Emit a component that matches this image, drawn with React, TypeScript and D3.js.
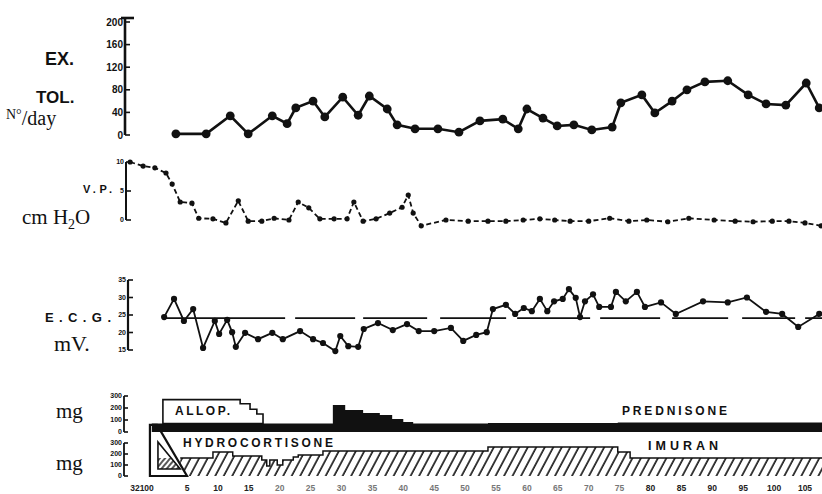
import React from "react";
import * as d3 from "d3";

// ---------- data ----------
const dayTicks = [5, 10, 15, 20, 25, 30, 35, 40, 45, 50, 55, 60, 65, 70, 75, 80, 85, 90, 95, 100, 105];
const fadedTicks = [20, 25, 30, 35, 40, 45, 50, 55, 60, 65, 70, 75];
const preDayLabel = "32100";

const exTicks = [0, 40, 80, 120, 160, 200];
const exDays = [3.2, 8.1, 12, 14.9, 18.8, 21.2, 22.6, 25.4, 27.3, 30.2, 32.7, 34.5, 37.4, 39, 41.9,
  45.6, 49, 52.4, 56.1, 58.6, 60, 62.6, 64.9, 67.6, 70.5, 73.8, 75.2, 78.6, 80.7, 83.5, 85.9, 88.8,
  92.5, 95.8, 98.7, 101.9, 105.2, 107.3];
const exValues = [2, 2, 34, 2, 34, 20, 48, 60, 32, 67, 35, 69, 46, 18, 11,
  11, 5, 25, 28, 11, 46, 30, 16, 18, 9, 14, 57, 71, 39, 60, 80, 94,
  96, 71, 55, 53, 92, 48];

const vpTicks = [0, 5, 10];
const vpDays = [-4.2, -2.1, -0.2, 1.6, 2.6, 3.9, 5.8, 6.9, 9.2, 11.3,
  13.3, 14.9, 17.1, 19.1, 21.5, 23, 24.7, 26.5, 28.8, 30.9,
  32, 33.5, 35.6, 37.8, 39.8, 40.8, 41.6, 42.9, 46.9, 50.5,
  53.7, 56.6, 59.4, 62.1, 64.5, 67, 70, 73.4, 76.5, 79.4,
  82.8, 86.2, 90.3, 93.7, 96.6, 99.7, 102.4, 105, 107.6];
const vpValues = [10, 9.3, 9.0, 8.1, 6.2, 3.1, 2.9, 0.3, 0.2, -0.5,
  3.3, -0.2, -0.2, 0.3, 0, 3.1, 2.1, 0.2, 0.2, 0.2,
  3.1, -0.2, 0.2, 1.2, 2.2, 4.3, 1.2, -1.0, 0, -0.2,
  -0.2, -0.2, 0, 0.2, 0, -0.2, -0.2, 0.3, -0.2, 0,
  -0.3, 0.3, 0, -0.2, -0.3, -0.2, -0.2, -0.5, -1.0];

const ecgTicks = [15, 20, 25, 30, 35];
const ecgDays = [1.3, 2.9, 4.5, 6.0, 7.6, 9.5, 10.2, 11.5, 12.3, 12.9,
  14.4, 16.5, 18.8, 20.5, 23.3, 25.4, 27.0, 29.0, 29.8, 31.1,
  32.7, 33.6, 35.9, 38.3, 40.6, 42.5, 45.0, 47.7, 49.7, 51.8,
  53.5, 54.5, 56.6, 58.1, 59.5, 60.8, 62.1, 63.3, 64.4, 65.8,
  66.8, 67.9, 68.6, 69.4, 70.7, 71.7, 73.6, 74.4, 76.0, 77.8,
  79.1, 81.7, 84.1, 88.5, 92.5, 95.6, 98.7, 101.3, 103.9, 107.3];
const ecgValues = [24.4, 29.6, 23.3, 26.7, 15.6, 23.3, 19.6, 23.6, 20.1, 15.9,
  19.9, 18.1, 19.9, 18.1, 20.4, 18.1, 17, 14.7, 19, 16.1,
  15.9, 21, 22.7, 20.7, 22.4, 20.4, 20.4, 21.3, 17.6, 19.3,
  20.1, 26.7, 27.9, 25.3, 27, 26.1, 29.6, 26.1, 28.9, 29.6,
  32.4, 29.9, 24.4, 28.9, 30.9, 27.3, 27.3, 31.6, 28.9, 31.6,
  27.3, 28.6, 25.3, 28.9, 28.6, 30, 25.9, 25.3, 21.6, 25.3];
const ecgRefValue = 24.1;
const ecgRefStartDay = 1.3;

const mgTicks = [0, 100, 200, 300];
const prednisoneDays = [-0.7, 28.6, 30.6, 33.5, 36.2, 38.2, 40.0, 41.6, 53.7, 74.7, 112];
const prednisoneValues = [70, 225, 183, 158, 142, 108, 83, 70, 75, 80, 80];
const allopDays = [1.1, 13.6, 15.2, 16.3, 17.3];
const allopValues = [200, 165, 120, 80, 80];
const hydroDays = [-1, 0.15, 5];
const hydroValues = [464, 464, 0];
const hydroInnerDays = [0.3, 0.3, 3.9];
const hydroInnerValues = [64, 309, 64];
const hydroInnerHatchDays = [0.3, 0.3, 2.4, 3.9];
const hydroInnerHatchValues = [64, 164, 164, 64];
const imuranDays = [3.9, 9.2, 12.4, 17.1, 17.9, 18.4, 19.6, 20.5, 22.2, 23.0, 27.0, 53.7, 74.7, 76.7, 112];
const imuranValues = [164, 218, 182, 145, 91, 145, 100, 145, 173, 190, 227, 264, 218, 164, 164];

// ---------- scales ----------
const x = d3.scaleLinear().domain([5, 105]).range([187, 805]);
const yEx = d3.scaleLinear().domain([0, 200]).range([135, 22]);
const yVp = d3.scaleLinear().domain([0, 10]).range([220, 162]);
const yEcg = d3.scaleLinear().domain([15, 35]).range([350, 280]);
const yU = d3.scaleLinear().domain([0, 300]).range([432, 396]);
const yL = d3.scaleLinear().domain([0, 300]).range([476, 443]);

type P = { d: number; v: number };
const zip = (ds: number[], vs: number[]): P[] => ds.map((d, i) => ({ d, v: vs[i] }));

const exPts = zip(exDays, exValues);
const vpPts = zip(vpDays, vpValues);
const ecgPts = zip(ecgDays, ecgValues);

const predAt = (day: number) => {
  let v = prednisoneValues[0];
  for (let i = 0; i < prednisoneDays.length; i++) if (prednisoneDays[i] <= day) v = prednisoneValues[i];
  return v;
};

const INK = "#111";
const numFont = "'Liberation Sans Narrow', 'Liberation Sans', Arial, sans-serif";
const labFont = "'Liberation Sans', Arial, sans-serif";
const handFont = "'Liberation Serif', 'DejaVu Serif', serif";

export default function App() {
  const exLine = d3.line<P>().x(p => x(p.d)).y(p => yEx(p.v))(exPts) || "";
  const vpLine = d3.line<P>().x(p => x(p.d)).y(p => yVp(p.v))(vpPts) || "";
  const ecgLine = d3.line<P>().x(p => x(p.d)).y(p => yEcg(p.v))(ecgPts) || "";

  const predArea = d3.area<P>().curve(d3.curveStepAfter)
    .x(p => x(p.d)).y0(yU(0)).y1(p => yU(p.v))(zip(prednisoneDays, prednisoneValues)) || "";
  const allopArea = d3.area<P>().curve(d3.curveStepAfter)
    .x(p => x(p.d)).y0(p => yU(predAt(p.d))).y1(p => yU(predAt(p.d) + p.v))(zip(allopDays, allopValues)) || "";
  const hydroArea = d3.area<P>().x(p => x(p.d)).y0(yL(0)).y1(p => yL(p.v))(zip(hydroDays, hydroValues)) || "";
  const innerPts = zip(hydroInnerDays, hydroInnerValues);
  const innerPath = d3.line<P>().x(p => x(p.d)).y(p => yL(p.v))(innerPts) + "Z";
  const innerHatch = d3.line<P>().x(p => x(p.d)).y(p => yL(p.v))(zip(hydroInnerHatchDays, hydroInnerHatchValues)) + "Z";
  const imPts = zip(imuranDays, imuranValues);
  const imArea = d3.area<P>().curve(d3.curveStepAfter).x(p => x(p.d)).y0(yL(0)).y1(p => yL(p.v))(imPts) || "";
  const imTop = d3.line<P>().curve(d3.curveStepAfter).x(p => x(p.d)).y(p => yL(p.v))(imPts) || "";

  const refX0 = x(ecgRefStartDay);

  const axis = (ax: number, scale: d3.ScaleLinear<number, number>, ticks: number[], fs: number, capTop = false, tickLen = 5, sw = 2.2) => {
    const [lo, hi] = scale.domain();
    const yTop = capTop ? scale(hi) - 4 : scale(hi);
    return (
      <g>
        <line x1={ax} x2={ax} y1={yTop} y2={scale(lo)} stroke={INK} strokeWidth={sw} />
        {ticks.map(t => (
          <g key={t}>
            <line x1={ax} x2={ax + tickLen} y1={scale(t)} y2={scale(t)} stroke={INK} strokeWidth={1.6} />
            <text x={ax - 2} y={scale(t) + fs * 0.35} fontSize={fs} fontFamily={numFont} fontWeight="bold"
              textAnchor="end" fill={INK}>{t}</text>
          </g>
        ))}
      </g>
    );
  };

  return (
    <svg width={822} height={494} viewBox="0 0 822 494"
      style={{ position: "absolute", left: 0, top: 0, background: "#fff" }}>
      <defs>
        <pattern id="hatch" patternUnits="userSpaceOnUse" width="7.5" height="8" patternTransform="rotate(28)">
          <line x1="1" y1="0" x2="1" y2="8" stroke={INK} strokeWidth="1.6" />
        </pattern>
        <pattern id="hatch2" patternUnits="userSpaceOnUse" width="4" height="4" patternTransform="rotate(40)">
          <line x1="1" y1="0" x2="1" y2="4" stroke={INK} strokeWidth="1.4" />
        </pattern>
      </defs>
      <rect x={0} y={0} width={822} height={494} fill="#fff" />

      {/* ---------- EX. TOL. panel ---------- */}
      <text x={45} y={65} fontSize={18} fontWeight="bold" fontFamily={labFont} fill={INK}>EX.</text>
      <text x={36} y={103} fontSize={17} fontWeight="bold" fontFamily={labFont} fill={INK}>TOL.</text>
      <text x={6} y={125} fontSize={20} fontFamily={handFont} fill={INK}>
        <tspan fontSize={14} dy={-6}>N°</tspan><tspan dy={6}>/day</tspan>
      </text>
      {axis(125, yEx, exTicks, 10, true, 5, 2.6)}
      <line x1={121} x2={134} y1={yEx(200) - 4} y2={yEx(200) - 4} stroke={INK} strokeWidth={2.6} />
      <path d={exLine} fill="none" stroke={INK} strokeWidth={2.6} />
      {exPts.map((p, i) => <circle key={i} cx={x(p.d)} cy={yEx(p.v)} r={4.4} fill={INK} />)}

      {/* ---------- V.P. panel ---------- */}
      <text x={83} y={193} fontSize={11} fontWeight="bold" fontFamily={labFont} fill={INK}
        textLength={29} lengthAdjust="spacing">V.P.</text>
      <text x={22} y={224} fontSize={21} fontFamily={handFont} fill={INK}>
        cm H<tspan fontSize={14} dy={5}>2</tspan><tspan dy={-5}>O</tspan>
      </text>
      {axis(126, yVp, vpTicks, 7, false, 5, 2)}
      <path d={vpLine} fill="none" stroke={INK} strokeWidth={1.8} strokeDasharray="5 3" />
      {vpPts.map((p, i) => <circle key={i} cx={x(p.d)} cy={yVp(p.v)} r={2.6} fill={INK} />)}

      {/* ---------- E.C.G. panel ---------- */}
      <text x={45} y={322} fontSize={13} fontWeight="bold" fontFamily={labFont} fill={INK}
        textLength={66} lengthAdjust="spacing">E.C.G.</text>
      <text x={54} y={351} fontSize={22} fontFamily={handFont} fill={INK}>mV.</text>
      {axis(128, yEcg, ecgTicks, 7, false, 5, 2.2)}
      <line x1={refX0} x2={822} y1={yEcg(ecgRefValue)} y2={yEcg(ecgRefValue)} stroke={INK} strokeWidth={1.6}
        strokeDasharray="121 10 60 8 64 13 66 11 73 10 60 12 56 14 53 10" />
      <path d={ecgLine} fill="none" stroke={INK} strokeWidth={1.8} />
      {ecgPts.map((p, i) => <circle key={i} cx={x(p.d)} cy={yEcg(p.v)} r={3.1} fill={INK} />)}

      {/* ---------- drug panels ---------- */}
      <text x={56} y={418} fontSize={21} fontFamily={handFont} fill={INK}>mg</text>
      <text x={56} y={470} fontSize={21} fontFamily={handFont} fill={INK}>mg</text>
      {axis(124, yU, mgTicks, 7, false, 4, 1.8)}
      {axis(124, yL, mgTicks, 7, false, 4, 1.8)}

      <path d={imArea} fill="url(#hatch)" stroke="none" />
      <path d={imTop} fill="none" stroke={INK} strokeWidth={1.5} />
      <path d={hydroArea} fill="#fff" stroke={INK} strokeWidth={2.2} strokeLinejoin="miter" />
      <path d={innerHatch} fill="url(#hatch2)" stroke="none" />
      <path d={innerPath} fill="none" stroke={INK} strokeWidth={1.6} />
      <path d={predArea} fill={INK} />
      <path d={allopArea} fill="#fff" stroke={INK} strokeWidth={1.6} />

      <text x={175} y={415} fontSize={12} fontWeight="bold" fontFamily={labFont} fill={INK}
        textLength={55} lengthAdjust="spacing">ALLOP.</text>
      <text x={622} y={415} fontSize={12} fontWeight="bold" fontFamily={labFont} fill={INK}
        textLength={105} lengthAdjust="spacing">PREDNISONE</text>
      <text x={183} y={447} fontSize={12} fontWeight="bold" fontFamily={labFont} fill={INK}
        textLength={150} lengthAdjust="spacing">HYDROCORTISONE</text>
      <text x={648} y={450} fontSize={12.5} fontWeight="bold" fontFamily={labFont} fill={INK}
        textLength={70} lengthAdjust="spacing">IMURAN</text>

      {/* ---------- day axis labels ---------- */}
      <text x={142} y={491} fontSize={8.5} fontWeight="bold" fontFamily={numFont} fill="#222" textAnchor="middle">{preDayLabel}</text>
      {dayTicks.map(t => (
        <text key={t} x={x(t)} y={491} fontSize={8.5} fontWeight="bold" fontFamily={numFont}
          fill={fadedTicks.includes(t) ? "#777" : "#222"} textAnchor="middle">{t}</text>
      ))}
    </svg>
  );
}
